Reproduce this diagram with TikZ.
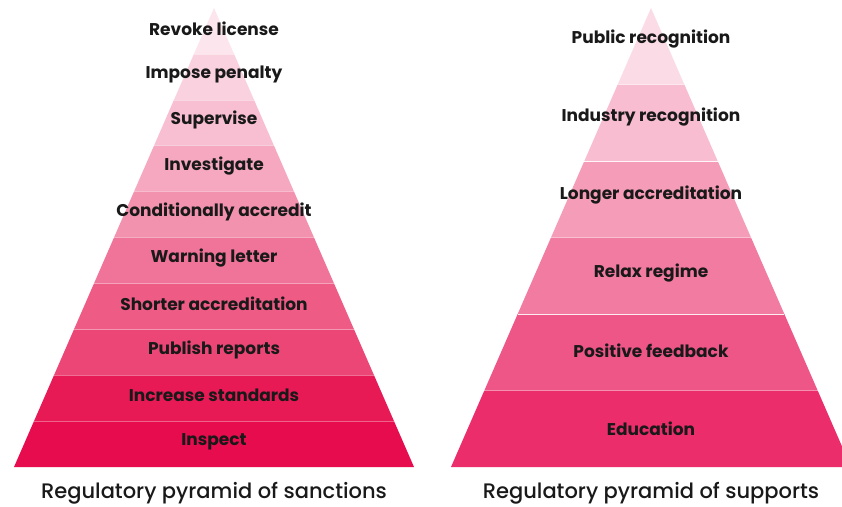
\documentclass[tikz,border=0pt]{standalone}
\usepackage{fontspec}
\setmainfont{Poppins}
\newfontfamily\capfont{Poppins Medium}
\usepackage{tikz}

\begin{document}
\begin{tikzpicture}[x=1pt, y=-1pt,
    level/.style={font=\bfseries\fontsize{17}{19}\selectfont, text=black!90, inner sep=1pt},
    caption/.style={font=\capfont\fontsize{21}{25}\selectfont, text=black!90}]
    % Define the pyramids
    \def\base{467}
    \def\apex{8}
    \def\half{200}
    \def\lx{214}
    \def\rx{651}
    % half width at depth #1
    \def\w(#1){\half/(\base-\apex)*((#1)-\apex)}

    \useasboundingbox (0,0) rectangle (842,506);
    \fill[white] (0,0) rectangle (842,506);

    % Draw the bands of sanctions
    \def\h{45.9}
    \foreach \k/\col/\lbl in {0/E60C4E/Inspect, 1/E81A56/Increase standards,
        2/EC4676/Publish reports, 3/EE5C86/Shorter accreditation,
        4/F07399/Warning letter, 5/F292AF/Conditionally accredit,
        6/F5A8C0/Investigate, 7/F8BED1/Supervise, 8/FAD2DF/Impose penalty,
        9/FCE5EC/Revoke license} {
      \definecolor{band}{HTML}{\col}
      \pgfmathsetmacro\yb{\base-\k*\h}
      \pgfmathsetmacro\yt{\base-(\k+1)*\h}
      \fill[band] ({\lx-\w(\yb)},\yb) -- ({\lx+\w(\yb)},\yb)
        -- ({\lx+\w(\yt)},\yt) -- ({\lx-\w(\yt)},\yt) -- cycle;
      \draw[white, opacity=0.4, line width=0.6pt] ({\lx-\w(\yt)},\yt) -- ({\lx+\w(\yt)},\yt);
      \node[level] (s\k) at (\lx, {\yb-\h/2-2.5}) {\lbl};
    }

    % Draw the bands of supports
    \def\h{76.5}
    \foreach \k/\col/\lbl in {0/EC2D6C/Education, 1/EF5688/Positive feedback,
        2/F27BA1/Relax regime, 3/F59DB8/Longer accreditation,
        4/F8BDD0/Industry recognition, 5/FBDCE6/Public recognition} {
      \definecolor{band}{HTML}{\col}
      \pgfmathsetmacro\yb{\base-\k*\h}
      \pgfmathsetmacro\yt{\base-(\k+1)*\h}
      \fill[band] ({\rx-\w(\yb)},\yb) -- ({\rx+\w(\yb)},\yb)
        -- ({\rx+\w(\yt)},\yt) -- ({\rx-\w(\yt)},\yt) -- cycle;
      \draw[white, line width=1.2pt] ({\rx-\w(\yt)},\yt) -- ({\rx+\w(\yt)},\yt);
      \node[level] (p\k) at (\rx, {\yb-\h/2-\k*1.4}) {\lbl};
    }

    % Labels for the pyramids
    \node[caption] (sanctions) at (\lx, 493) {Regulatory pyramid of sanctions};
    \node[caption] (supports) at (\rx, 493) {Regulatory pyramid of supports};
\end{tikzpicture}
\end{document}
